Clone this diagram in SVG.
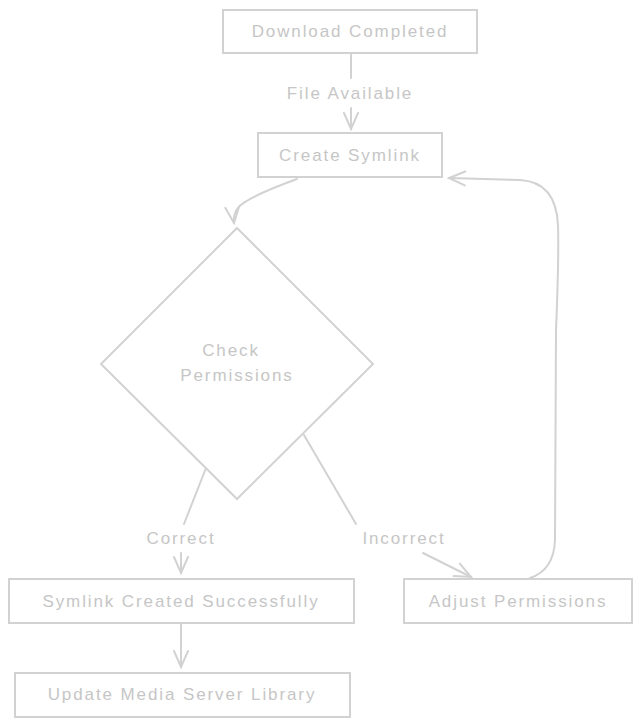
<svg xmlns="http://www.w3.org/2000/svg" width="641" height="726" viewBox="0 0 641 726">
<style>
.box{fill:#fff;stroke:#d2d2d2;stroke-width:2}
.edge{fill:none;stroke:#d2d2d2;stroke-width:2;stroke-linecap:round}
.t{font-family:"Liberation Sans",Arial,sans-serif;font-size:17px;fill:#c6c6c6;text-anchor:middle;dominant-baseline:central;letter-spacing:1.9px}
</style>
<defs>
<marker id="ah" viewBox="0 0 20 20" refX="18" refY="10" markerWidth="20" markerHeight="20" markerUnits="userSpaceOnUse" orient="auto">
<path d="M2 3 L18 10 L2 17" fill="none" stroke="#d2d2d2" stroke-width="2" stroke-linecap="round"/>
</marker>
</defs>
<rect width="641" height="726" fill="#fff"/>
<g id="connectors">
<path class="edge" d="M351 54 L351 78"/>
<text class="t" x="350" y="93">File Available</text>
<path class="edge" d="M351 108 L351 129" marker-end="url(#ah)"/>
<path class="edge" d="M297 179 Q245 198 238 208 Q233 214 234 223" marker-end="url(#ah)"/>
<path class="edge" d="M206 468 L184 524"/>
<text class="t" x="181" y="538">Correct</text>
<path class="edge" d="M181 553 L181 573" marker-end="url(#ah)"/>
<path class="edge" d="M304 435 L356 524"/>
<text class="t" x="404" y="538">Incorrect</text>
<path class="edge" d="M423 553 L471 577" marker-end="url(#ah)"/>
<path class="edge" d="M181 624 L181 667" marker-end="url(#ah)"/>
<path class="edge" d="M530 578 Q554 570 555 540 L556 330 Q559 260 558 225 Q556 182 520 180 L449 178" marker-end="url(#ah)"/>
</g>
<g id="download-completed">
<rect class="box" x="223" y="10" width="254" height="43"/>
<text class="t" x="350" y="31">Download Completed</text>
</g>
<g id="create-symlink">
<rect class="box" x="258" y="133" width="184" height="44"/>
<text class="t" x="350" y="155">Create Symlink</text>
</g>
<g id="check-permissions">
<polygon class="box" points="237,228 373,364 237,499 101,364"/>
<text class="t" x="231" y="350">Check</text>
<text class="t" x="237" y="375">Permissions</text>
</g>
<g id="symlink-created">
<rect class="box" x="9" y="579" width="345" height="44"/>
<text class="t" x="181" y="601">Symlink Created Successfully</text>
</g>
<g id="adjust-permissions">
<rect class="box" x="404" y="579" width="228" height="44"/>
<text class="t" x="518" y="601">Adjust Permissions</text>
</g>
<g id="update-library">
<rect class="box" x="15" y="673" width="335" height="44"/>
<text class="t" x="182" y="694">Update Media Server Library</text>
</g>
</svg>
